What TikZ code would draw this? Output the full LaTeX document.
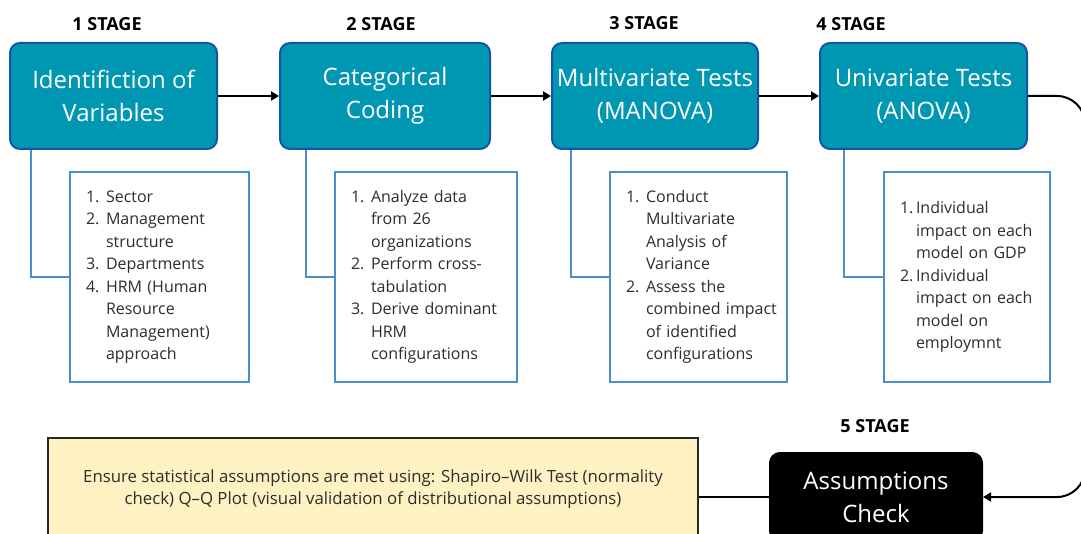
\documentclass[tikz,border=0pt]{standalone}
\usepackage{fontspec}
\setmainfont{Open Sans}
\usetikzlibrary{arrows.meta}
\definecolor{tealfill}{RGB}{0,151,178}
\definecolor{tealborder}{RGB}{22,84,170}
\definecolor{lineblue}{RGB}{74,143,204}
\definecolor{paleyellow}{RGB}{255,242,194}
\definecolor{bodytext}{RGB}{45,45,45}
\newcommand\firstln[2]{\mbox{\makebox[1.25em][l]{#1}#2}}
\newcommand\nextln[1]{\mbox{\hspace*{1.25em}#1}}
\newcommand\firstlnb[2]{\mbox{\makebox[1.0em][l]{#1}#2}}
\newcommand\nextlnb[1]{\mbox{\hspace*{1.0em}#1}}
\begin{document}
\begin{tikzpicture}[x=1pt,y=-1pt,
  stagebox/.style={draw=tealborder, line width=2pt, fill=tealfill, rounded corners=10pt,
    text=white, font=\fontsize{24}{33}\selectfont, align=center, minimum height=106pt, inner sep=0pt},
  stagelabel/.style={font=\fontsize{18}{20}\selectfont\bfseries, text=black},
  detail/.style={draw=lineblue, line width=2pt, fill=white, minimum height=210pt,
    inner xsep=16pt, inner ysep=0pt, align=left, font=\fontsize{16}{22.5}\selectfont, text=bodytext},
  conn/.style={draw=lineblue, line width=2pt},
  flow/.style={draw=black, line width=2pt, -{Triangle[length=8pt,width=9pt]}},
  plain/.style={draw=black, line width=2pt},
]
\useasboundingbox (0,0) rectangle (1081,534);
\clip (0,0) rectangle (1081,534);

% stage labels
\node[stagelabel] (l1) at (107,24) {1 STAGE};
\node[stagelabel] (l2) at (381,24) {2 STAGE};
\node[stagelabel] (l3) at (644,23) {3 STAGE};
\node[stagelabel] (l4) at (851,24) {4 STAGE};
\node[stagelabel] (l5) at (875,426) {5 STAGE};

% stage boxes
\node[stagebox, minimum width=207pt] (b1) at (113.5,96) {Identifiction of\\Variables};
\node[stagebox, minimum width=210pt] (b2) at (385,96) {Categorical\\Coding};
\node[stagebox, minimum width=206pt] (b3) at (655,96) {Multivariate Tests\\(MANOVA)};
\node[stagebox, minimum width=207pt] (b4) at (923.5,96) {Univariate Tests\\(ANOVA)};

% detail boxes
\node[detail, text width=147pt] (d1) at (159.5,277) {%
\firstln{1.}{Sector}\\
\firstln{2.}{Management}\\
\nextln{structure}\\
\firstln{3.}{Departments}\\
\firstln{4.}{HRM (Human}\\
\nextln{Resource}\\
\nextln{Management)}\\
\nextln{approach}};
\node[detail, text width=150pt] (d2) at (426,277) {%
\firstln{1.}{Analyze data}\\
\nextln{from 26}\\
\nextln{organizations}\\
\firstln{2.}{Perform cross-}\\
\nextln{tabulation}\\
\firstln{3.}{Derive dominant}\\
\nextln{HRM}\\
\nextln{configurations}};
\node[detail, text width=145pt] (d3) at (698.5,277) {%
\firstln{1.}{Conduct}\\
\nextln{Multivariate}\\
\nextln{Analysis of}\\
\nextln{Variance}\\
\firstln{2.}{Assess the}\\
\nextln{combined impact}\\
\nextln{of identified}\\
\nextln{configurations}};
\node[detail, text width=134pt] (d4) at (967,277) {%
\firstlnb{1.}{Individual}\\
\nextlnb{impact on each}\\
\nextlnb{model on GDP}\\
\firstlnb{2.}{Individual}\\
\nextlnb{impact on each}\\
\nextlnb{model on}\\
\nextlnb{employmnt}};

% connectors from stage boxes to detail boxes
\draw[conn] (b1.south west) ++(22,0) |- (d1.west);
\draw[conn] (b2.south west) ++(27,0) |- (d2.west);
\draw[conn] (b3.south west) ++(20,0) |- (d3.west);
\draw[conn] (b4.south west) ++(25,0) |- (d4.west);

% bottom row
\node[draw=black, line width=2pt, fill=black, rounded corners=10pt, text=white,
  font=\fontsize{24}{33}\selectfont, align=center, minimum width=212pt, minimum height=88pt,
  inner sep=0pt] (b5) at (876,497) {Assumptions\\Check};
\node[draw=black!85, line width=1.6pt, fill=paleyellow, minimum width=650pt, minimum height=102pt,
  align=center, font=\fontsize{16.8}{22}\selectfont, text=bodytext, inner sep=0pt] (y) at (373,489)
  {Ensure statistical assumptions are met using: Shapiro–Wilk Test (normality\\
   check) Q–Q Plot (visual validation of distributional assumptions)};

% flow arrows
\draw[flow] (b1.east) -- (b2.west);
\draw[flow] (b2.east) -- (b3.west);
\draw[flow] (b3.east) -- (b4.west);
\coordinate (bend) at (1085,0);
\draw[flow, rounded corners=28pt] (b4.east) -- (b4.east -| bend) -- (b5.east -| bend) -- (b5.east);
\draw[plain] (b5.west) -- (b5.west -| y.east);
\end{tikzpicture}
\end{document}
